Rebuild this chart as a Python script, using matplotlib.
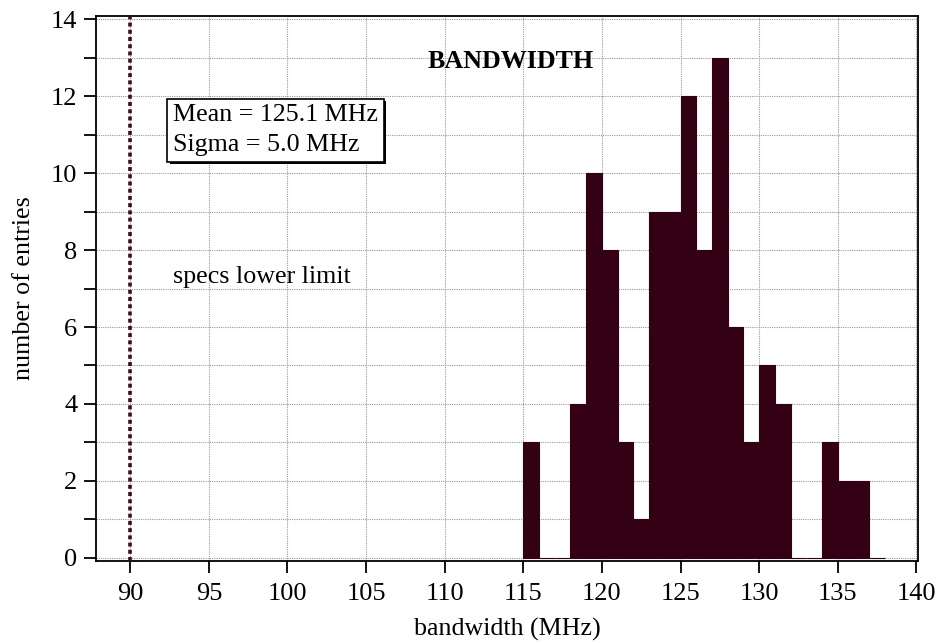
import numpy as np
import matplotlib
matplotlib.use("Agg")
import matplotlib.pyplot as plt
import matplotlib.patheffects as pe

# histogram of bandwidth, 1 MHz bins from 115 to 138
bin_edges = np.arange(115, 139, 1)
counts = [3, 0, 0, 4, 10, 8, 3, 1, 9, 9, 12, 8, 13, 6, 3, 5, 4, 0, 0, 3, 2, 2, 0]
spec_limit = 90
mean_txt = "Mean = 125.1 MHz"
sigma_txt = "Sigma = 5.0 MHz"

bar_col = "#330014"
line_col = "#3d0a1e"

plt.rcParams['font.family'] = ['Liberation Serif', 'DejaVu Serif']

fig = plt.figure(figsize=(9.39, 6.43), dpi=100)
ax = fig.add_axes([0.1022, 0.1275, 0.8754, 0.8476])

ax.bar(bin_edges[:-1], counts, width=1.0, align='edge', color=bar_col,
       edgecolor=bar_col, linewidth=0.8, zorder=2)

ax.axvline(spec_limit, color=line_col, lw=2.6, linestyle=(0, (1.1, 0.9)),
           dash_capstyle='butt', zorder=3)

ax.set_xlim(87.82, 140.1)
ax.set_ylim(-0.08, 14.08)
ax.set_xticks(np.arange(90, 141, 5))
ax.set_yticks(np.arange(0, 15, 2))
ax.set_yticks(np.arange(1, 15, 2), minor=True)

ax.grid(True, which='both', axis='y', color='#9a9a9a', linestyle=(0, (1, 1)), lw=0.8)
ax.grid(True, which='major', axis='x', color='#9a9a9a', linestyle=(0, (1, 1)), lw=0.8)
ax.set_axisbelow(True)

ax.tick_params(axis='both', which='both', direction='out', length=8.5, width=1.3,
               labelsize=19, color='black')
ax.tick_params(axis='y', pad=5)
ax.tick_params(axis='x', pad=7)
for s in ax.spines.values():
    s.set_linewidth(1.3)

ax.set_xlabel("bandwidth (MHz)", fontsize=18.7)
ax.set_ylabel("number of entries", fontsize=18.7)
ax.xaxis.set_label_coords(0.5, -0.105)
ax.yaxis.set_label_coords(-0.074, 0.5)

ax.text(114.2, 12.9, "BANDWIDTH", fontsize=18.7, fontweight='bold',
        ha='center', va='center')
t = ax.text(92.73, 11.11, mean_txt + "\n" + sigma_txt, fontsize=18.7, ha='left', va='center',
            linespacing=1.45,
            bbox=dict(boxstyle='square,pad=0.22', facecolor='white', edgecolor='black', lw=1.2))
t.get_bbox_patch().set_path_effects([
    pe.SimplePatchShadow(offset=(1.8, -1.8), shadow_rgbFace='black', alpha=1.0),
    pe.Normal()])
ax.text(92.73, 7.3, "specs lower limit", fontsize=18.7, ha='left', va='center')

fig.savefig("out.png", dpi=100)
